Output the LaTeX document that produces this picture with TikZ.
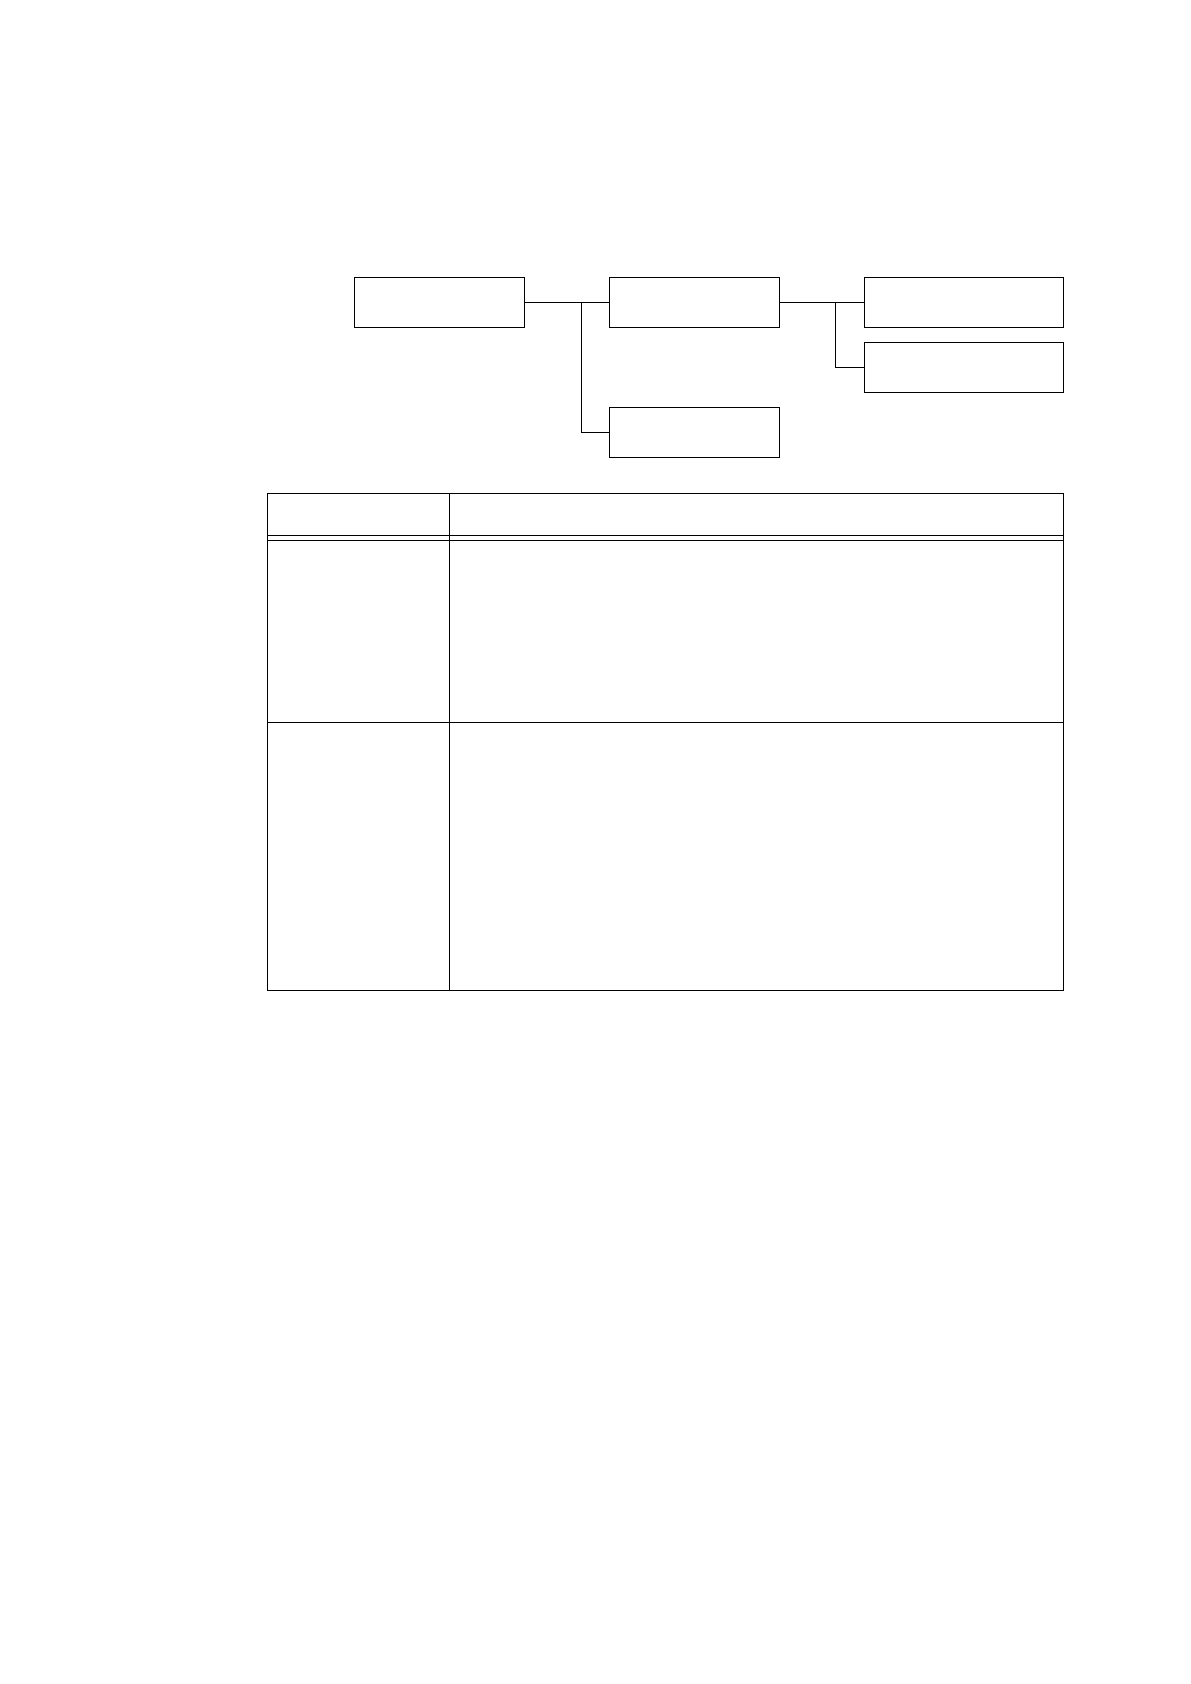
\documentclass[tikz,border=0pt]{standalone}
\usetikzlibrary{positioning,calc}
\begin{document}
\begin{tikzpicture}[x=0.5pt,y=-0.5pt,line width=0.5pt,
	box/.style={draw,rectangle,minimum height=25pt,inner sep=0pt},
	sbox/.style={box,minimum width=85pt},
	lbox/.style={box,minimum width=99.75pt}]
		\useasboundingbox (0,0) rectangle (1190,1684);

		% tree of boxes
		\node[sbox] (root) at (439.6,302.3) {};
		\node[sbox,right=42.15pt of root] (mid) {};
		\node[sbox,below=39.7pt of mid] (low) {};
		\node[lbox,right=41.6pt of mid] (topr) {};
		\node[lbox,below=7pt of topr] (botr) {};

		\coordinate (j1) at ($(root.east)!2/3!(mid.west)$);
		\coordinate (j2) at ($(mid.east)!2/3!(topr.west)$);
		\draw (root.east) -- (mid.west);
		\draw (j1) |- (low.west);
		\draw (mid.east) -- (topr.west);
		\draw (j2) |- (botr.west);

		% table
		\draw (267.4,493.3) rectangle (1063.6,990);
		\draw (449.6,493.3) -- (449.6,990);
		\draw (267.4,535.3) -- (1063.6,535.3);
		\draw (267.4,540.3) -- (1063.6,540.3);
		\draw (267.4,722.3) -- (1063.6,722.3);
\end{tikzpicture}
\end{document}
